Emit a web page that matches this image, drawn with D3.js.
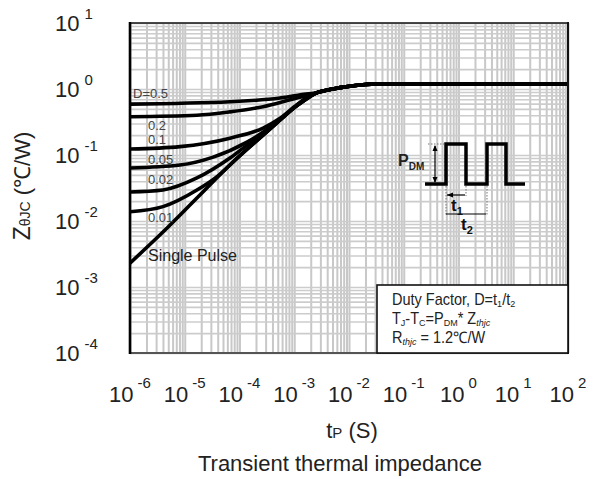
<!DOCTYPE html>
<html>
<head>
<meta charset="utf-8">
<script src="https://cdn.jsdelivr.net/npm/d3@7"></script>
<style>
  body { margin: 0; background: #fff; }
  svg { font-family: "Liberation Sans", Arial, sans-serif; }
</style>
</head>
<body>
<svg id="chart" width="602" height="479"></svg>
<script>
// tick exponents (decades)
const xExps = [-6, -5, -4, -3, -2, -1, 0, 1, 2];
const yExps = [-4, -3, -2, -1, 0, 1];

// curves: [tP (s), Zth (C/W)]
const singlePulse = [[1e-6, 0.0023], [4e-6, 0.0068], [1.67e-5, 0.0223], [6.7e-5, 0.0705], [2.7e-4, 0.20], [1.12e-3, 0.56], [1.8e-3, 0.74]];
const d001 = [[1e-6, 0.0138], [4e-6, 0.0165], [1.67e-5, 0.0295], [4e-5, 0.048], [1e-4, 0.097], [2.7e-4, 0.20], [1.12e-3, 0.56], [1.8e-3, 0.74]];
const d002 = [[1e-6, 0.0275], [4e-6, 0.0295], [1.67e-5, 0.0449], [6.7e-5, 0.090], [1.37e-4, 0.14], [2.7e-4, 0.205], [1.12e-3, 0.56], [1.8e-3, 0.74]];
const d005 = [[1e-6, 0.0635], [8.2e-6, 0.0705], [3.3e-5, 0.093], [1.37e-4, 0.157], [5.5e-4, 0.34], [1.12e-3, 0.57], [1.8e-3, 0.75]];
const d01 = [[1e-6, 0.123], [8.2e-6, 0.134], [6.7e-5, 0.18], [2.7e-4, 0.256], [5.5e-4, 0.36], [1.12e-3, 0.58], [1.8e-3, 0.76]];
const d02 = [[1e-6, 0.38], [1.67e-5, 0.40], [6.7e-5, 0.45], [2.7e-4, 0.54], [1.12e-3, 0.73], [1.8e-3, 0.8]];
const d05 = [[1e-6, 0.59], [6.7e-5, 0.64], [5.5e-4, 0.73], [1.5e-3, 0.83]];
// common part where all curves meet and level off at Rthjc
const tail = [[2.6e-3, 0.88], [4.5e-3, 0.98], [6.9e-3, 1.05], [1.2e-2, 1.12], [2e-2, 1.17], [3.5e-2, 1.195], [5e-2, 1.2], [1e2, 1.2]];

const curveLabels = ['D=0.5', '0.2', '0.1', '0.05', '0.02', '0.01', 'Single Pulse'];
const labelY = [0.72, 0.24, 0.148, 0.072, 0.036, 0.0098, 0.0025];

const pLeft = 130, pRight = 568, pTop = 23, pBottom = 353;

const svg = d3.select('#chart');

const x = d3.scaleLog().domain([1e-6, 1e2]).range([pLeft, pRight]);
const y = d3.scaleLog().domain([1e-4, 1e1]).range([pBottom, pTop]);

// grid
svg.append('g')
   .attr('transform', `translate(0,${pBottom})`)
   .call(d3.axisBottom(x).tickSize(-(pBottom - pTop)).tickFormat(''))
   .call(g => g.select('.domain').remove())
   .selectAll('line')
   .attr('stroke', '#c8c8c8')
   .attr('stroke-width', 2);

svg.append('g')
   .attr('transform', `translate(${pLeft},0)`)
   .call(d3.axisLeft(y).tickSize(-(pRight - pLeft)).tickFormat(''))
   .call(g => g.select('.domain').remove())
   .selectAll('line')
   .attr('stroke', '#cccccc')
   .attr('stroke-width', 1.6);

svg.append('clipPath').attr('id', 'clip')
   .append('rect')
   .attr('x', pLeft).attr('y', pTop)
   .attr('width', pRight - pLeft).attr('height', pBottom - pTop);

const line = d3.line()
   .x(d => x(d[0]))
   .y(d => y(d[1]))
   .curve(d3.curveMonotoneX);

const curves = [d05, d02, d01, d005, d002, d001, singlePulse];
svg.append('g').attr('clip-path', 'url(#clip)')
   .selectAll('path')
   .data(curves)
   .join('path')
   .attr('d', d => line(d.concat(tail)))
   .attr('fill', 'none')
   .attr('stroke', '#000')
   .attr('stroke-width', 3.6)
   .attr('stroke-linejoin', 'round');

// frame
svg.append('line').attr('x1', pLeft).attr('x2', pRight).attr('y1', pTop).attr('y2', pTop)
   .attr('stroke', '#111').attr('stroke-width', 1.6);
svg.append('line').attr('x1', pLeft).attr('x2', pRight).attr('y1', pBottom).attr('y2', pBottom)
   .attr('stroke', '#555').attr('stroke-width', 2);
svg.append('line').attr('x1', pLeft).attr('x2', pLeft).attr('y1', pTop - 1).attr('y2', pBottom + 1)
   .attr('stroke', '#000').attr('stroke-width', 2.6);
svg.append('line').attr('x1', pRight).attr('x2', pRight).attr('y1', pTop - 1).attr('y2', pBottom + 1)
   .attr('stroke', '#111').attr('stroke-width', 2);

// curve labels
svg.append('g')
   .selectAll('text')
   .data(curveLabels)
   .join('text')
   .attr('x', (d, i) => i === 0 ? 133 : 148)
   .attr('y', (d, i) => y(labelY[i]))
   .attr('font-size', (d, i) => i === 6 ? 16 : 13)
   .attr('fill', (d, i) => i === 6 ? '#222' : '#444')
   .text(d => d);

// tick labels
const xl = svg.append('g').selectAll('text')
   .data(xExps)
   .join('text')
   .attr('x', d => x(Math.pow(10, d)))
   .attr('y', 402)
   .attr('text-anchor', 'middle')
   .attr('fill', '#222');
xl.append('tspan').attr('font-size', 22).text('10');
xl.append('tspan').attr('font-size', 15).attr('dx', 4).attr('dy', -14).text(d => d);

const yl = svg.append('g').selectAll('text')
   .data(yExps)
   .join('text')
   .attr('x', 55)
   .attr('y', d => y(Math.pow(10, d)) + 8)
   .attr('fill', '#222');
yl.append('tspan').attr('font-size', 22).text('10');
yl.append('tspan').attr('font-size', 15).attr('dx', 5).attr('dy', -12).text(d => d);

// axis titles
const yt = svg.append('text')
   .attr('transform', 'translate(30,186) rotate(-90)')
   .attr('text-anchor', 'middle')
   .attr('fill', '#222');
yt.append('tspan').attr('font-size', 23).text('Z');
yt.append('tspan').attr('font-size', 14).text('θJC');
yt.append('tspan').attr('font-size', 22).text(' (℃/W)');

const xt = svg.append('text')
   .attr('x', 352).attr('y', 438)
   .attr('text-anchor', 'middle')
   .attr('fill', '#222');
xt.append('tspan').attr('font-size', 22).text('t');
xt.append('tspan').attr('font-size', 15).text('P');
xt.append('tspan').attr('font-size', 22).text('  (S)');

svg.append('text')
   .attr('x', 340).attr('y', 471)
   .attr('text-anchor', 'middle')
   .attr('font-size', 22)
   .attr('fill', '#222')
   .text('Transient thermal impedance');

// note box
svg.append('rect')
   .attr('x', 377).attr('y', 285)
   .attr('width', pRight - 377).attr('height', pBottom - 285)
   .attr('fill', '#fff')
   .attr('stroke', '#111')
   .attr('stroke-width', 1.6);

// text in the source is a bit tall
const note = svg.append('g')
   .attr('transform', 'translate(392,285) scale(1,1.1)')
   .attr('font-size', 14.5)
   .attr('fill', '#222');
const n1 = note.append('text').attr('x', 0).attr('y', 18.2);
n1.append('tspan').text('Duty Factor,  D=t');
n1.append('tspan').attr('font-size', 9).attr('dy', 2).text('1');
n1.append('tspan').attr('dy', -2).text('/t');
n1.append('tspan').attr('font-size', 9).attr('dy', 2).text('2');

const n2 = note.append('text').attr('x', 0).attr('y', 35.5);
n2.append('tspan').text('T');
n2.append('tspan').attr('font-size', 9).attr('dy', 2).text('J');
n2.append('tspan').attr('dy', -2).text('-T');
n2.append('tspan').attr('font-size', 9).attr('dy', 2).text('C');
n2.append('tspan').attr('dy', -2).text('=P');
n2.append('tspan').attr('font-size', 9).attr('dy', 2).text('DM');
n2.append('tspan').attr('dy', -2).text('* Z');
n2.append('tspan').attr('font-size', 9).attr('font-style', 'italic').attr('dy', 2).text('thjc');

const n3 = note.append('text').attr('x', 0).attr('y', 52.5);
n3.append('tspan').text('R');
n3.append('tspan').attr('font-size', 9).attr('font-style', 'italic').attr('dy', 2).text('thjc');
n3.append('tspan').attr('dy', -2).text(' = 1.2℃/W');

// pulse sketch
const pulse = svg.append('g');
pulse.append('path')
   .attr('d', 'M425,184H446V144H466V184H487V144H506V184H525')
   .attr('fill', 'none')
   .attr('stroke', '#000')
   .attr('stroke-width', 3.5);
pulse.append('path')
   .attr('d', 'M428,144H444M466,186V196M446,186V216M487,186V216')
   .attr('stroke', '#777')
   .attr('stroke-width', 1)
   .attr('stroke-dasharray', '1.5,1.5');
const arrows = [[435, 146, 435, 182], [447, 195, 465, 195], [446, 214, 486, 214]];
pulse.selectAll('line.arr')
   .data(arrows)
   .join('line')
   .attr('x1', d => d[0]).attr('y1', d => d[1])
   .attr('x2', d => d[2]).attr('y2', d => d[3])
   .attr('stroke', '#000')
   .attr('stroke-width', 1.2);
pulse.selectAll('path.head')
   .data([[435, 145, 0], [435, 183, 180], [447, 195, 270]])
   .join('path')
   .attr('d', 'M0,0L-2.5,6H2.5Z')
   .attr('transform', d => `translate(${d[0]},${d[1]}) rotate(${d[2]})`)
   .attr('fill', '#000');

const pdm = pulse.append('text').attr('x', 398).attr('y', 166).attr('font-weight', 'bold').attr('fill', '#222');
pdm.append('tspan').attr('font-size', 16).text('P');
pdm.append('tspan').attr('font-size', 10).attr('dy', 4).text('DM');

const t1 = pulse.append('text').attr('x', 451).attr('y', 211).attr('font-weight', 'bold').attr('fill', '#111');
t1.append('tspan').attr('font-size', 17).text('t');
t1.append('tspan').attr('font-size', 11).attr('dy', 4).text('1');

const t2 = pulse.append('text').attr('x', 461).attr('y', 230).attr('font-weight', 'bold').attr('fill', '#111');
t2.append('tspan').attr('font-size', 17).text('t');
t2.append('tspan').attr('font-size', 11).attr('dy', 4).text('2');
</script>
</body>
</html>
